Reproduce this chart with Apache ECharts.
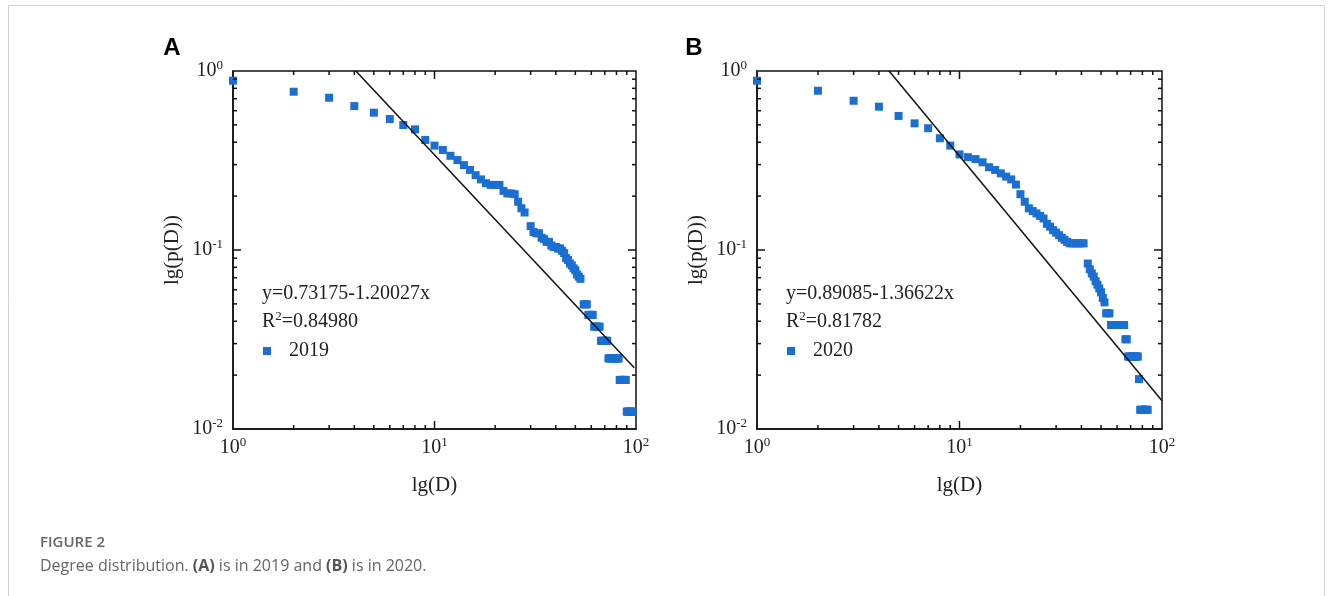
<!DOCTYPE html>
<html><head><meta charset="utf-8">
<script src="https://cdn.jsdelivr.net/npm/echarts@6/dist/echarts.min.js"></script>
<style>html,body{margin:0;padding:0;background:#fff}#c{width:1333px;height:596px}</style>
</head><body><div id="c"></div>
<script>
// ---- Panel A (2019) ----
const degA = [1,2,3,4,5,6,7,8,9,10,11,12,13,14,15,16,17,18,19,20,21,22,23,24,25,26,27,28,30,31,32,33,34,35,36,37,38,39,40,41,42,43,44,45,46,47,48,49,50,51,52,53,
  55,56,57,58,59,60,61,62,63,64,65,66,67,68,69,70,71,72,73,74,75,76,77,78,79,80,81,82,83,84,85,86,87,88,89,90,91,92,93,94,95,96];
const probA = [0.883,0.766,0.709,0.637,0.585,0.539,0.499,0.472,0.412,0.383,0.362,0.336,0.318,0.298,0.280,0.262,0.248,0.236,0.231,0.231,0.231,0.214,0.207,0.207,0.205,0.186,0.171,0.162,0.136,0.126,0.124,0.124,0.117,0.115,0.111,0.111,0.106,0.104,0.104,0.102,0.102,0.099,0.096,0.090,0.088,0.084,0.082,0.079,0.077,0.073,0.071,0.069,
  0.0497,0.0497,0.0497,0.0434,0.0434,0.0434,0.0434,0.0373,0.0373,0.0373,0.0373,0.0373,0.0311,0.0311,0.0311,0.0311,0.0311,0.0311,0.0248,0.0248,0.0248,0.0248,0.0248,0.0248,0.0248,0.0248,0.0248,0.0248,0.0188,0.0188,0.0188,0.0188,0.0188,0.0188,0.0188,0.0125,0.0125,0.0125,0.0125,0.0125,0.0125,0.0125];
const fitA = [[4.07,1],[98,0.022]];
const eqA = 'y=0.73175-1.20027x';
const r2A = '=0.84980';
const nameA = '2019';

// ---- Panel B (2020) ----
const degB = [1,2,3,4,5,6,7,8,9,10,11,12,13,14,15,16,17,18,19,20,21,22,23,24,25,26,27,28,29,30,31,32,33,34,35,36,37,38,39,40,41,43,44,45,46,47,48,49,50,51,52,53,54,55,
  56,57,58,59,60,61,62,63,64,65,66,67,68,69,70,71,72,73,74,75,76,77,78,79,80,81,82,83,84,85];
const probB = [0.883,0.776,0.682,0.632,0.561,0.510,0.479,0.421,0.383,0.342,0.330,0.322,0.309,0.290,0.280,0.268,0.257,0.248,0.232,0.205,0.186,0.171,0.165,0.160,0.155,0.150,0.140,0.135,0.129,0.125,0.121,0.117,0.114,0.111,0.109,0.109,0.109,0.109,0.109,0.109,0.109,0.084,0.078,0.074,0.071,0.067,0.064,0.061,0.058,0.054,0.051,0.0443,0.0443,0.0443,
  0.0381,0.0381,0.0381,0.0381,0.0381,0.0381,0.0381,0.0381,0.0381,0.0381,0.0317,0.0317,0.0254,0.0254,0.0254,0.0254,0.0254,0.0254,0.0254,0.0254,0.0254,0.019,0.0128,0.0128,0.0128,0.0128,0.0128,0.0128,0.0128,0.0128];
const fitB = [[4.49,1],[100,0.0144]];
const eqB = 'y=0.89085-1.36622x';
const r2B = '=0.81782';
const nameB = '2020';

// ---- Axes ----
const xMajorTicks = [10];
const xMinorTicks = [2,3,4,5,6,7,8,9,20,30,40,50,60,70,80,90];
const yMajorTicks = [0.1];
const yMinorTicks = [0.02,0.03,0.04,0.05,0.06,0.07,0.08,0.09,0.2,0.3,0.4,0.5,0.6,0.7,0.8,0.9];
const xTickExp = ['0','1','2'];      // 10^0, 10^1, 10^2
const yTickExp = ['-2','-1','0'];    // 10^-2, 10^-1, 10^0
const xName = 'lg(D)';
const yName = 'lg(p(D))';

const SERIF = '"Liberation Serif", "DejaVu Serif", serif';
const BLUE = '#1a6fd0';
const INK = '#222';

const labRich = {
  b: {fontFamily: SERIF, fontSize: 20, color: INK, lineHeight: 24},
  s: {fontFamily: SERIF, fontSize: 13, color: INK, lineHeight: 13, verticalAlign: 'top'}
};
function xFmt(v){ return '{b|10}{s|' + xTickExp[Math.round(Math.log10(v))] + '}'; }
function yFmt(v){ return '{b|10}{s|' + yTickExp[Math.round(Math.log10(v)) + 2] + '}'; }

function tickData(){
  const d = [];
  xMajorTicks.forEach(t => d.push([t, 0.1, 0, 8]));
  xMinorTicks.forEach(t => d.push([t, 0.1, 0, 4]));
  yMajorTicks.forEach(t => d.push([10, t, 1, 8]));
  yMinorTicks.forEach(t => d.push([10, t, 1, 4]));
  return d;
}
function renderTick(params, api){
  const cs = params.coordSys;
  const kind = api.value(2), len = api.value(3);
  const p = api.coord([api.value(0), api.value(1)]);
  const st = {stroke: '#111', lineWidth: 1.5};
  if (kind === 0) {
    const x = p[0];
    return {type: 'group', children: [
      {type: 'line', shape: {x1: x, y1: cs.y + cs.height, x2: x, y2: cs.y + cs.height - len}, style: st},
      {type: 'line', shape: {x1: x, y1: cs.y, x2: x, y2: cs.y + len}, style: st}
    ]};
  }
  const y = p[1];
  return {type: 'group', children: [
    {type: 'line', shape: {x1: cs.x, y1: y, x2: cs.x + len, y2: y}, style: st},
    {type: 'line', shape: {x1: cs.x + cs.width, y1: y, x2: cs.x + cs.width - len, y2: y}, style: st}
  ]};
}

function xAxisOpt(gi){
  return {type: 'log', logBase: 10, gridIndex: gi, min: 1, max: 100,
    axisLine: {show: true, lineStyle: {color: '#111', width: 1.5}},
    axisTick: {show: false}, splitLine: {show: false},
    axisLabel: {formatter: xFmt, rich: labRich, margin: 7},
    name: xName, nameLocation: 'middle', nameGap: 46,
    nameTextStyle: {fontFamily: SERIF, fontSize: 21, color: INK}};
}
function yAxisOpt(gi){
  return {type: 'log', logBase: 10, gridIndex: gi, min: 0.01, max: 1,
    axisLine: {show: true, lineStyle: {color: '#111', width: 1.5}},
    axisTick: {show: false}, splitLine: {show: false},
    axisLabel: {formatter: yFmt, rich: labRich, margin: 10},
    name: yName, nameLocation: 'middle', nameGap: 50,
    nameTextStyle: {fontFamily: SERIF, fontSize: 21, color: INK}};
}
function zip(a, b){ return a.map((v, i) => [v, b[i]]); }

function panelSeries(gi, name, deg, prob, fit){
  return [
    {type: 'line', name: 'fit' + gi, xAxisIndex: gi, yAxisIndex: gi, data: fit,
      symbol: 'none', silent: true, lineStyle: {color: '#111', width: 1.5}, z: 3},
    {type: 'scatter', name: name, xAxisIndex: gi, yAxisIndex: gi, data: zip(deg, prob),
      symbol: 'rect', symbolSize: 8, itemStyle: {color: BLUE, opacity: 1}, z: 2},
    {type: 'custom', name: 'ticks' + gi, xAxisIndex: gi, yAxisIndex: gi, data: tickData(),
      renderItem: renderTick, silent: true, z: 4}
  ];
}

function eqText(x, eq, r2){
  return [
    {type: 'text', x: x, y: 294, style: {text: eq, fontFamily: SERIF, fontSize: 20, fill: INK, verticalAlign: 'middle'}},
    {type: 'text', x: x, y: 322, style: {text: '{a|R}{s|2}{a|' + r2 + '}', verticalAlign: 'middle',
      rich: {a: {fontFamily: SERIF, fontSize: 20, fill: INK, color: INK, lineHeight: 24},
             s: {fontFamily: SERIF, fontSize: 13, fill: INK, color: INK, lineHeight: 13, verticalAlign: 'top'}}}}
  ];
}

const legendText = {fontFamily: SERIF, fontSize: 20, color: INK, padding: [0, 0, 0, 13]};

const chart = echarts.init(document.getElementById('c'), null, {renderer: 'canvas'});
chart.setOption({
  animation: false,
  backgroundColor: '#fff',
  grid: [
    {left: 233, top: 71, width: 403, height: 358, show: true, borderColor: '#111', borderWidth: 1.5, backgroundColor: 'transparent'},
    {left: 757, top: 71, width: 405, height: 358, show: true, borderColor: '#111', borderWidth: 1.5, backgroundColor: 'transparent'}
  ],
  xAxis: [xAxisOpt(0), xAxisOpt(1)],
  yAxis: [yAxisOpt(0), yAxisOpt(1)],
  legend: [
    {data: [nameA], left: 263, top: 341, padding: 0, icon: 'rect', itemWidth: 8, itemHeight: 8, textStyle: legendText},
    {data: [nameB], left: 787, top: 341, padding: 0, icon: 'rect', itemWidth: 8, itemHeight: 8, textStyle: legendText}
  ],
  series: [].concat(panelSeries(0, nameA, degA, probA, fitA), panelSeries(1, nameB, degB, probB, fitB)),
  graphic: [
    {type: 'rect', shape: {x: 8.5, y: 5.5, width: 1316, height: 700}, style: {fill: 'none', stroke: '#d4d4d4', lineWidth: 1}, z: -10},
    {type: 'text', x: 172, y: 48, style: {text: 'A', fontFamily: '"Liberation Sans", Arial, sans-serif', fontWeight: 'bold', fontSize: 24, fill: '#000', align: 'center', verticalAlign: 'middle'}},
    {type: 'text', x: 694, y: 48, style: {text: 'B', fontFamily: '"Liberation Sans", Arial, sans-serif', fontWeight: 'bold', fontSize: 24, fill: '#000', align: 'center', verticalAlign: 'middle'}},
    ...eqText(262, eqA, r2A),
    ...eqText(786, eqB, r2B),
    {type: 'text', x: 40, y: 543, style: {text: 'FIGURE 2', fontFamily: '"Open Sans", sans-serif', fontWeight: 600, fontSize: 15, fill: '#666', verticalAlign: 'middle'}},
    {type: 'text', x: 40, y: 566, style: {
      text: '{n|Degree distribution. }{b|(A)}{n| is in 2019 and }{b|(B)}{n| is in 2020.}', verticalAlign: 'middle',
      rich: {n: {fontFamily: '"Open Sans", sans-serif', fontSize: 16, fill: '#666', color: '#666'},
             b: {fontFamily: '"Open Sans", sans-serif', fontSize: 16, fontWeight: 'bold', fill: '#555', color: '#555'}}}}
  ]
});
</script>
</body></html>
